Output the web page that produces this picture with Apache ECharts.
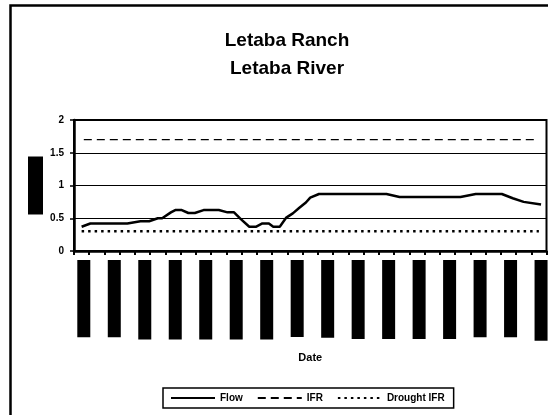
<!DOCTYPE html>
<html>
<head>
<meta charset="utf-8">
<script src="https://cdn.jsdelivr.net/npm/echarts@6/dist/echarts.min.js"></script>
<style>
  html, body { margin: 0; padding: 0; background: #fff; }
  #chart { width: 548px; height: 415px; }
</style>
</head>
<body>
<div id="chart"></div>
<script>
// daily axis, 31 weeks from the start date
const startDate = new Date(2003, 9, 1);
const dayCount = 217;
const monthNames = ['Jan', 'Feb', 'Mar', 'Apr', 'May', 'Jun', 'Jul', 'Aug', 'Sep', 'Oct', 'Nov', 'Dec'];
const dates = [];
for (let i = 0; i < dayCount; i++) {
  const d = new Date(startDate.getTime() + i * 86400000);
  const dd = String(d.getDate()).padStart(2, '0');
  dates.push(dd + '-' + monthNames[d.getMonth()] + '-' + d.getFullYear());
}

// flow readings (day index on the axis, m3/s)
const flowDays = [3, 7, 24, 30, 34, 38, 40, 44, 46, 49, 52, 55, 59, 66, 70, 73, 76, 80, 83, 86, 89, 91, 94,
  97, 100, 103, 106, 108, 112, 143, 149, 177, 184, 196, 201, 206, 214];
const flowValues = [0.37, 0.42, 0.42, 0.455, 0.455, 0.50, 0.50, 0.59, 0.625, 0.625, 0.58, 0.58, 0.625, 0.625,
  0.59, 0.59, 0.49, 0.37, 0.37, 0.42, 0.42, 0.37, 0.37, 0.51, 0.575, 0.66, 0.74, 0.815, 0.87, 0.87, 0.825,
  0.825, 0.87, 0.87, 0.805, 0.75, 0.71];

// requirement levels
const ifrDays = [4, 212];
const ifrValues = [1.7, 1.7];
const droughtDays = [3, 213];
const droughtValues = [0.3, 0.3];

const yTicks = [0, 0.5, 1, 1.5, 2];

const font = 'Liberation Sans, Arial, sans-serif';
const pair = (xs, ys) => xs.map((x, i) => [x, ys[i]]);

const chart = echarts.init(document.getElementById('chart'));
chart.setOption({
  animation: false,
  textStyle: { fontFamily: font, color: '#000' },
  title: {
    text: 'Letaba Ranch\nLetaba River',
    left: 282,
    top: 22,
    textAlign: 'center',
    textStyle: { fontFamily: font, fontSize: 19, fontWeight: 'bold', lineHeight: 28, color: '#000' }
  },
  graphic: [{
    type: 'rect',
    shape: { x: 10.5, y: 5.5, width: 700, height: 600 },
    style: { fill: 'none', stroke: '#000', lineWidth: 2.5 },
    silent: true
  }],
  legend: {
    left: 163,
    top: 388,
    itemWidth: 44,
    itemHeight: 10,
    itemGap: 14,
    padding: [5, 9, 5, 7],
    borderColor: '#000',
    borderWidth: 1.5,
    itemStyle: { opacity: 0 },
    textStyle: { fontFamily: font, fontSize: 10, fontWeight: 'bold', color: '#000' },
    data: ['Flow', 'IFR', 'Drought IFR']
  },
  grid: {
    left: 74,
    right: 1.5,
    top: 120,
    bottom: 164,
    show: true,
    borderColor: '#000',
    borderWidth: 2
  },
  xAxis: {
    type: 'category',
    data: dates,
    boundaryGap: true,
    name: 'Date',
    nameLocation: 'middle',
    nameGap: 101,
    nameTextStyle: { fontFamily: font, fontSize: 11, fontWeight: 'bold', color: '#000' },
    axisLine: { lineStyle: { color: '#000', width: 2.5 } },
    axisTick: { show: true, interval: 6, length: 4, lineStyle: { color: '#000', width: 2 } },
    axisLabel: {
      interval: (i) => i % 14 === 4,
      rotate: 90,
      margin: 9,
      fontSize: 11,
      fontFamily: font,
      color: '#000',
      backgroundColor: '#000',
      padding: [1, 8]
    },
    splitLine: { show: false }
  },
  yAxis: {
    type: 'value',
    min: 0,
    max: 2,
    interval: 0.5,
    name: 'Flow (m³/s)',
    nameLocation: 'middle',
    nameRotate: 90,
    nameGap: 31,
    nameMoveOverlap: false,
    nameTextStyle: { fontFamily: font, fontSize: 11, color: '#000', backgroundColor: '#000', padding: [2, 1.5] },
    axisLine: { show: true, lineStyle: { color: '#000', width: 2.5 } },
    axisTick: { show: true, length: 4, lineStyle: { color: '#000', width: 1.5 } },
    axisLabel: {
      margin: 10,
      fontSize: 10,
      fontWeight: 'bold',
      fontFamily: font,
      color: '#000',
      formatter: (v) => (yTicks.indexOf(v) >= 0 ? String(v) : '')
    },
    splitLine: { show: true, lineStyle: { color: '#000', width: 1 } }
  },
  series: [
    {
      name: 'Flow',
      type: 'line',
      data: pair(flowDays, flowValues),
      symbol: 'none',
      lineStyle: { color: '#000', width: 2.5 },
      itemStyle: { color: '#000' },
      z: 5
    },
    {
      name: 'IFR',
      type: 'line',
      data: pair(ifrDays, ifrValues),
      symbol: 'none',
      lineStyle: { color: '#000', width: 1.2, type: [8, 5] },
      itemStyle: { color: '#000' }
    },
    {
      name: 'Drought IFR',
      type: 'line',
      data: pair(droughtDays, droughtValues),
      symbol: 'none',
      lineStyle: { color: '#000', width: 2.5, type: [2.5, 4] },
      itemStyle: { color: '#000' }
    }
  ]
});
</script>
</body>
</html>
